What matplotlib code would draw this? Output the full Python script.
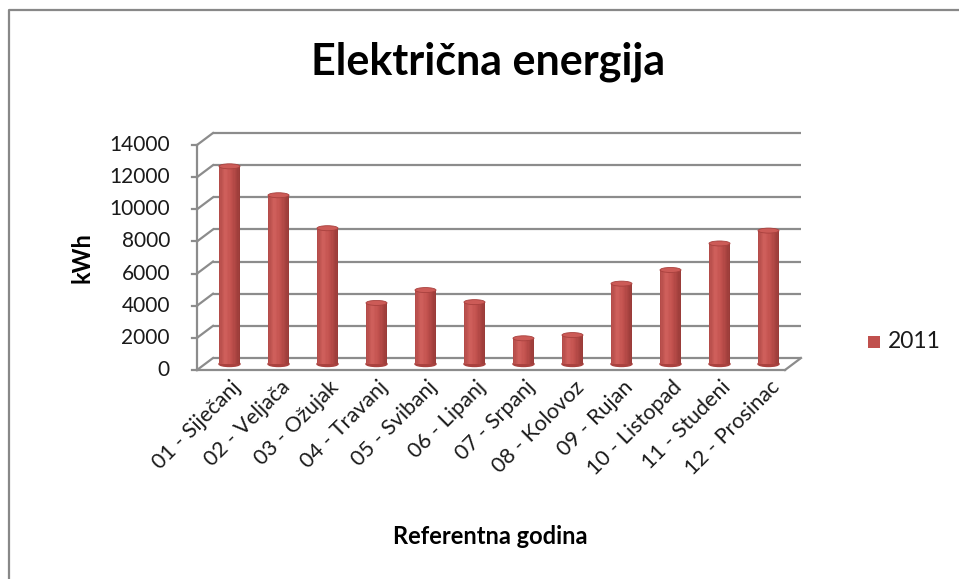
import matplotlib
matplotlib.use("Agg")
import matplotlib.pyplot as plt
from matplotlib.patches import Ellipse, Rectangle
from matplotlib.lines import Line2D
import matplotlib.colors as mcolors
import numpy as np

plt.rcParams['font.family'] = ['Lato', 'DejaVu Sans']

# ---- data ----
title = "Električna energija"
months = ["01 - Siječanj", "02 - Veljača", "03 - Ožujak", "04 - Travanj",
          "05 - Svibanj", "06 - Lipanj", "07 - Srpanj", "08 - Kolovoz",
          "09 - Rujan", "10 - Listopad", "11 - Studeni", "12 - Prosinac"]
values_2011 = [12300, 10500, 8450, 3800, 4600, 3850, 1600, 1800, 5000, 5850, 7500, 8300]
series_name = "2011"
y_ticks = [0, 2000, 4000, 6000, 8000, 10000, 12000, 14000]
y_label = "kWh"
x_label = "Referentna godina"

W, H = 959, 579
fig = plt.figure(figsize=(W / 100, H / 100), dpi=100)

# front plane of the pseudo-3D plot
fx0, fx1 = 197, 785
fy0, fy1 = 370, 145
ax = fig.add_axes([fx0 / W, 1 - fy0 / H, (fx1 - fx0) / W, (fy0 - fy1) / H])
ax.set_xlim(-0.5, len(months) - 0.5)
ax.set_ylim(0, 14000)
ax.axis('off')

pxx = (fx1 - fx0) / len(months)          # px per x unit
pxy = (fy0 - fy1) / 14000.0              # px per y unit
ddx, ddy = 16 / pxx, 12 / pxy            # depth offset (back wall)
bdx, bdy = 8 / pxx, 6 / pxy              # bar plane offset

grid_c = '#8c8c8c'
lw = 1.6
xl, xr = -0.5, len(months) - 0.5

# gridlines on the back wall + side wall diagonals
for v in y_ticks:
    ax.plot([xl + ddx, xr + ddx], [v + ddy, v + ddy], color=grid_c, lw=lw,
            clip_on=False, zorder=1, solid_capstyle='butt')
    ax.plot([xl, xl + ddx], [v, v + ddy], color=grid_c, lw=lw, clip_on=False, zorder=1)
    ax.plot([xl - 5 / pxx, xl], [v, v], color=grid_c, lw=lw, clip_on=False, zorder=1)
    ax.text(xl - 27 / pxx, v, f"{v}", ha='right', va='center', fontsize=15,
            color='#1a1a1a', clip_on=False)

# front axis and floor
ax.plot([xl, xl], [0, 14000], color=grid_c, lw=lw, clip_on=False, zorder=1)
ax.plot([xl, xr], [0, 0], color=grid_c, lw=lw, clip_on=False, zorder=1)
ax.plot([xr, xr + ddx], [0, ddy], color=grid_c, lw=lw, clip_on=False, zorder=1)

# cylinder bars
bw = 21 / pxx
nstrip = 16
cmap = mcolors.LinearSegmentedColormap.from_list(
    'cyl', [(0, '#b14a47'), (0.3, '#d0605c'), (0.6, '#c0504d'), (1, '#973a37')])
cap_h = 5 / pxy
for i, v in enumerate(values_2011):
    cx = i + bdx
    edges = np.linspace(cx - bw / 2, cx + bw / 2, nstrip + 1)
    for k in range(nstrip):
        t = (k + 0.5) / nstrip
        ax.bar((edges[k] + edges[k + 1]) / 2, v, bottom=bdy,
               width=edges[k + 1] - edges[k], color=cmap(t), lw=0,
               zorder=3, clip_on=False)
    ax.add_patch(Ellipse((cx, bdy), bw, cap_h, color='#a9423f', zorder=2.9,
                         clip_on=False))
    ax.add_patch(Ellipse((cx, v + bdy), bw, cap_h, facecolor='#cc5b57',
                         edgecolor='#a8413e', lw=0.6, zorder=4, clip_on=False))

# x tick labels
for i, m in enumerate(months):
    ax.text(i + 0.33, -14 / pxy, m, rotation=45, rotation_mode='anchor',
            ha='right', va='center', fontsize=15.5, color='#1a1a1a', clip_on=False)

# titles
fig.text(488 / W, 1 - 62 / H, title, ha='center', va='center', fontsize=31,
         fontweight='bold', color='black')
fig.text(82 / W, 1 - 258 / H, y_label, ha='center', va='center', rotation=90,
         fontsize=17, fontweight='bold', color='black')
fig.text(490 / W, 1 - 536 / H, x_label, ha='center', va='center',
         fontsize=17, fontweight='bold', color='black')

# legend
fig.add_artist(Rectangle((868 / W, 1 - 348 / H), 12 / W, 12 / H,
                         transform=fig.transFigure, facecolor='#c0504d',
                         edgecolor='none'))
fig.text(888 / W, 1 - 342 / H, series_name, ha='left', va='center',
         fontsize=16.5, color='#1a1a1a')

# chart border
fig.add_artist(Line2D([9 / W, 9 / W, 1.0], [0, 1 - 10 / H, 1 - 10 / H],
                      transform=fig.transFigure, color='#888888', lw=1.6))

fig.savefig('out.png', dpi=100)
